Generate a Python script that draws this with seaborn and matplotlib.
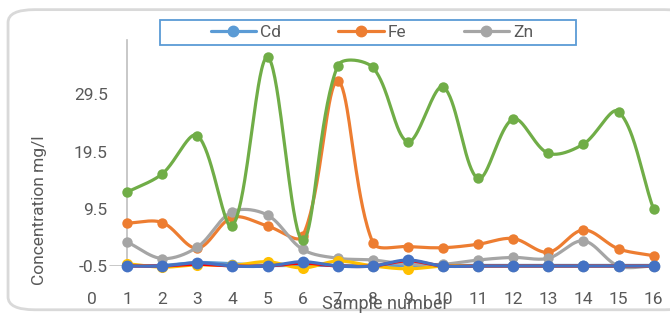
import numpy as np
import matplotlib
matplotlib.use("Agg")
import matplotlib.pyplot as plt
from matplotlib.patches import FancyBboxPatch, Rectangle
from matplotlib.lines import Line2D
import seaborn as sns

samples = list(range(1, 17))

cd = [-0.4, -0.4, 0.1, -0.1, -0.4, -0.4, -0.4, -0.4, -0.4, -0.4, -0.4, -0.4, -0.4, -0.4, -0.4, -0.4]
fe = [7.0, 7.1, 2.6, 8.0, 6.5, 4.7, 31.8, 3.6, 2.9, 2.7, 3.3, 4.3, 1.9, 5.8, 2.5, 1.3]
zn = [3.7, 0.8, 2.8, 9.0, 8.4, 2.4, 0.85, 0.55, -0.2, -0.2, 0.55, 1.0, 0.85, 3.9, -0.5, -0.5]
yellow = [-0.1, -0.7, -0.3, -0.4, 0.25, -0.85, 0.37, -0.5, -1.0, -0.5, -0.5, -0.5, -0.5, -0.5, -0.5, -0.5]
red = [-0.5, -0.5, -0.2, -0.5, -0.5, 0.0, -0.5, -0.5, 0.4, -0.5, -0.5, -0.5, -0.5, -0.5, -0.5, -0.5]
green = [12.4, 15.6, 22.3, 6.5, 36.0, 4.0, 34.5, 34.2, 21.2, 30.8, 14.8, 25.2, 19.2, 20.8, 26.5, 9.4]
blue2 = [-0.5, -0.5, 0.08, -0.5, -0.5, 0.25, -0.5, -0.5, 0.55, -0.5, -0.5, -0.5, -0.5, -0.5, -0.5, -0.5]

legend_names = ["Cd", "Fe", "Zn"]

# pixels per data unit, used to weight the smoothing like Excel does on screen
PX_X, PX_Y = 35.1, 5.72


def smooth(xs, ys, n=40):
    p = np.column_stack([np.asarray(xs, float) * PX_X, np.asarray(ys, float) * PX_Y])
    p = np.vstack([p[0], p, p[-1]])
    out = []
    t = np.linspace(0, 1, n)[:, None]
    for i in range(1, len(p) - 2):
        p0, p1, p2, p3 = p[i - 1], p[i], p[i + 1], p[i + 2]
        d01 = np.hypot(*(p1 - p0))
        d12 = np.hypot(*(p2 - p1))
        d23 = np.hypot(*(p3 - p2))
        w1 = d12 / (d01 + d12) if d01 + d12 > 0 else 0
        w2 = d12 / (d12 + d23) if d12 + d23 > 0 else 0
        c1 = p1 + (p2 - p0) * w1 / 3
        c2 = p2 - (p3 - p1) * w2 / 3
        seg = ((1 - t) ** 3) * p1 + 3 * ((1 - t) ** 2) * t * c1 + 3 * (1 - t) * t ** 2 * c2 + t ** 3 * p2
        out.append(seg)
    out = np.vstack(out)
    return out[:, 0] / PX_X, out[:, 1] / PX_Y


sns.set_style("white")
plt.rcParams['font.family'] = ['Roboto', 'DejaVu Sans']

fig = plt.figure(figsize=(6.7, 3.21), dpi=100)

# chart frame
fig.patches.append(FancyBboxPatch((0.012, 0.035), 1.02, 0.935, boxstyle="round,pad=0,rounding_size=0.04",
                                  transform=fig.transFigure, facecolor="white", edgecolor="#D9D9D9",
                                  linewidth=2.0, zorder=-5))

ax = fig.add_axes([92 / 670, 1 - 266 / 321, 16.2 * 35.1 / 670, (266 - 40) / 321])
ax.set_facecolor("none")
ax.set_zorder(2)

series = [
    (cd, "#5B9BD5", 7, True),
    (fe, "#ED7D31", 7.5, True),
    (zn, "#A5A5A5", 7.5, True),
    (yellow, "#FFC000", 8, True),
    (green, "#70AD47", 7.5, True),
    (red, "#FF0000", 0, False),
    (blue2, "#4472C4", 8.5, True),
]

for k, (vals, col, ms, mk) in enumerate(series):
    sx, sy = smooth(samples, vals)
    sns.lineplot(x=sx, y=sy, ax=ax, color=col, linewidth=2.3, sort=False, estimator=None, zorder=2 + k)
    if mk:
        sns.scatterplot(x=samples, y=vals, ax=ax, color=col, s=ms ** 2, linewidth=0, zorder=2.5 + k, clip_on=False)

for l in ax.lines:
    l.set_clip_on(False)

ax.set_xlim(0, 16.2)
ax.set_ylim(-0.5, 39)
ax.set_xticks(range(0, 17))
ax.set_yticks([-0.5, 9.5, 19.5, 29.5])
ax.set_yticklabels(["-0.5", "9.5", "19.5", "29.5"])
ax.spines['left'].set_position(('data', 1))
ax.spines['left'].set_color("#BFBFBF")
ax.spines['left'].set_linewidth(1.2)
for s in ['top', 'right', 'bottom']:
    ax.spines[s].set_visible(False)
ax.tick_params(axis='y', length=4, color="#BFBFBF", width=1.2, labelsize=12.5, labelcolor="#595959", pad=10)
ax.tick_params(axis='x', length=0, labelsize=12.5, labelcolor="#595959", pad=19)
ax.axhline(-0.5, xmin=(1 - 0.5) / 16.2, xmax=1 / 16.2, color="#BFBFBF", linewidth=1.2, zorder=1)

ax.set_ylabel("")
fig.text(40 / 670, 1 - 210 / 321, "Concentration mg/l", rotation=90, ha="center", va="center",
         fontsize=12.5, color="#595959")
fig.text(385 / 670, 1 - 304 / 321, "Sample number", ha="center", va="center", fontsize=13, color="#595959")

# legend box
fig.patches.append(Rectangle((160 / 670, 1 - 45 / 321), 416 / 670, 25 / 321, transform=fig.transFigure,
                             facecolor="white", edgecolor="#5B9BD5", linewidth=1.3, zorder=5))
handles = [Line2D([0], [0], color=c, linewidth=2.3, marker="o", markersize=7.5)
           for c in ["#5B9BD5", "#ED7D31", "#A5A5A5"]]
leg = fig.legend(handles, legend_names, loc="center", ncol=3,
                 bbox_to_anchor=(372 / 670, 1 - 32.5 / 321), frameon=False,
                 fontsize=12.5, handlelength=2.6, handletextpad=0.25, columnspacing=3.3)
leg.set_zorder(6)
for t in leg.get_texts():
    t.set_color("#595959")

fig.savefig("out.png", dpi=100)
